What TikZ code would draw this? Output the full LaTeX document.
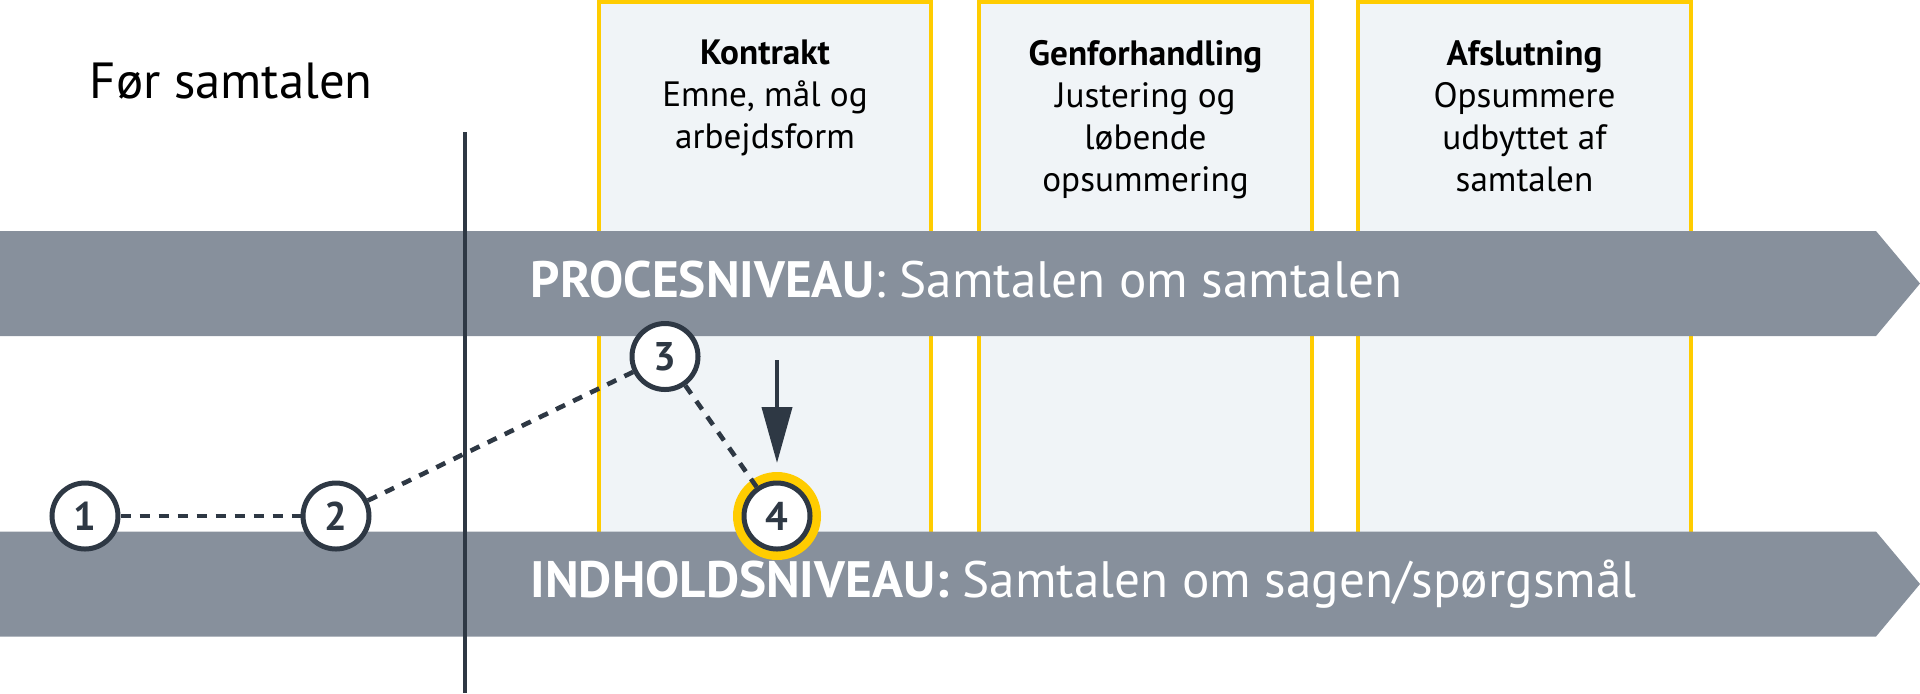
\documentclass[tikz,border=0pt]{standalone}
\usepackage{fontspec}
\setmainfont{PT Sans}
\usepackage{tikz}
\usetikzlibrary{arrows.meta}
\tikzset{every picture/.style={line width=0.75pt}}
\tikzset{
  fase/.style={draw={rgb, 255:red, 255; green, 204; blue, 0 }, line width=2pt, fill={rgb, 255:red, 240; green, 244; blue, 247 }},
  fasetekst/.style={anchor=north, inner sep=0.75pt, align=center, font=\fontsize{17.6}{21}\selectfont},
  niveau/.style={fill={rgb, 255:red, 135; green, 144; blue, 156 }, draw=none},
  niveautekst/.style={anchor=base west, inner sep=0pt, text=white, font=\fontsize{25.6}{30}\selectfont},
  nummer/.style={circle, draw={rgb, 255:red, 46; green, 56; blue, 68 }, line width=2.5pt, fill=white, minimum size=33pt, inner sep=0pt, text={rgb, 255:red, 46; green, 56; blue, 68 }, font=\fontsize{20}{24}\selectfont\bfseries},
  stiplet/.style={draw={rgb, 255:red, 46; green, 56; blue, 68 }, line width=2.3pt, dash pattern=on 5pt off 4.5pt}
}

\begin{document}
\begin{tikzpicture}[x=0.5pt,y=0.5pt,yscale=-1,xscale=1]
\useasboundingbox (0,0) rectangle (1920,693);
%faser
\draw [fase] (599,2) rectangle (931,570);
\draw [fase] (979,2) rectangle (1312,570);
\draw [fase] (1358,2) rectangle (1691,570);
\draw (765,38) node [fasetekst] (kontrakt) {\textbf{Kontrakt}\\Emne, mål og\\arbejdsform};
\draw (1145.5,38) node [fasetekst] (genforhandling) {\textbf{Genforhandling}\\Justering og\\løbende\\opsummering};
\draw (1524.5,38) node [fasetekst] (afslutning) {\textbf{Afslutning}\\Opsummere\\udbyttet af\\samtalen};
%niveauer
\fill [niveau] (0,231) -- (1876,231) -- (1920,283.5) -- (1876,336) -- (0,336) -- cycle ;
\fill [niveau] (0,531.5) -- (1876,531.5) -- (1920,584) -- (1876,636.5) -- (0,636.5) -- cycle ;
\draw (530,297) node [niveautekst] (proces) {\textbf{PROCESNIVEAU}: Samtalen om samtalen};
\draw (530,597) node [niveautekst] (indhold) {\textbf{INDHOLDSNIVEAU:} Samtalen om sagen/spørgsmål};
\draw (89,98) node [anchor=base west][inner sep=0pt] [font=\fontsize{25.4}{30}\selectfont] (foer) {Før samtalen};
%skillelinje
\coordinate (skel1) at (465,132);
\coordinate (skel2) at (465,693);
\draw [color={rgb, 255:red, 46; green, 56; blue, 68 }, line width=2pt] (skel1) -- (skel2);
%trin
\coordinate (ring) at (777,516);
\fill [color={rgb, 255:red, 255; green, 204; blue, 0 }] (ring) circle (44);
\draw (85,516) node [nummer] (n1) {1};
\draw (336,516) node [nummer] (n2) {2};
\draw (665,356.5) node [nummer] (n3) {3};
\draw (ring) node [nummer] (n4) {4};
\draw [stiplet] (n1) -- (n2);
\draw [stiplet] (n2) -- (n3);
\draw [stiplet] (n3) -- (n4);
\coordinate (pil1) at (777,360);
\coordinate (pil2) at (777,463);
\draw [color={rgb, 255:red, 46; green, 56; blue, 68 }, line width=2pt, -{Triangle[length=28pt,width=15pt]}] (pil1) -- (pil2);
\end{tikzpicture}
\end{document}
